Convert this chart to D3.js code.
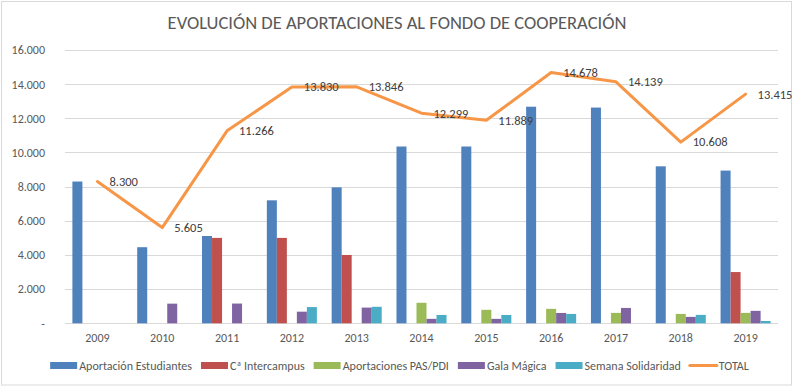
<!DOCTYPE html>
<html>
<head>
<meta charset="utf-8">
<script src="https://cdn.jsdelivr.net/npm/d3@7"></script>
<style>
	body { margin: 0; background: #fff; }
	svg text { font-family: Carlito, Lato, "Open Sans", sans-serif; }
</style>
</head>
<body>
<div id="visHolder"></div>
<script>
// data
const years = ["2009", "2010", "2011", "2012", "2013", "2014", "2015", "2016", "2017", "2018", "2019"];
const seriesNames = ["Aportación Estudiantes", "Cª Intercampus", "Aportaciones PAS/PDI", "Gala Mágica", "Semana Solidaridad"];
const estudiantes = [8300, 4455, 5110, 7200, 7960, 10350, 10350, 12680, 12630, 9190, 8940];
const intercampus = [0, 0, 5000, 5000, 4000, 0, 0, 0, 0, 0, 3000];
const pasPdi = [0, 0, 0, 0, 0, 1200, 790, 845, 610, 550, 610];
const galaMagica = [0, 1150, 1156, 680, 920, 260, 260, 605, 899, 375, 730];
const semanaSolidaridad = [0, 0, 0, 950, 966, 489, 489, 548, 0, 493, 135];
const totals = [8300, 5605, 11266, 13830, 13846, 12299, 11889, 14678, 14139, 10608, 13415];
const yTicks = [0, 2000, 4000, 6000, 8000, 10000, 12000, 14000, 16000];
const title = "EVOLUCIÓN DE APORTACIONES AL FONDO DE COOPERACIÓN";
const totalName = "TOTAL";

const seriesValues = [estudiantes, intercampus, pasPdi, galaMagica, semanaSolidaridad];
const colors = ["#4F81BD", "#C0504D", "#9BBB59", "#8064A2", "#4BACC6"];
const lineColor = "#F79646";

const width = 795, height = 387;
const plot = { left: 65, right: 778, top: 50, bottom: 323.3 };

const locale = d3.formatLocale({ decimal: ",", thousands: ".", grouping: [3], currency: ["", ""] });
const fmt = locale.format(",.0f");

const svg = d3.select("#visHolder").append("svg")
	.attr("width", width)
	.attr("height", height);

// chart border
svg.append("rect")
	.attr("x", 1.5).attr("y", 1.5)
	.attr("width", 790).attr("height", 383.5)
	.attr("fill", "#fff")
	.attr("stroke", "#d9d9d9");

svg.append("text")
	.attr("x", 397).attr("y", 29)
	.attr("text-anchor", "middle")
	.attr("fill", "#595959")
	.attr("font-size", 18.5)
	.text(title);

const x0 = d3.scaleBand().domain(years).range([plot.left, plot.right])
	.paddingInner(0.228).paddingOuter(0.114);
const x1 = d3.scaleBand().domain(d3.range(seriesNames.length)).range([0, x0.bandwidth()]);
const y = d3.scaleLinear().domain([0, 16000]).range([plot.bottom, plot.top]);

// gridlines
svg.append("g")
	.selectAll("line")
	.data(yTicks)
	.join("line")
	.attr("x1", plot.left).attr("x2", plot.right)
	.attr("y1", d => Math.round(y(d)) + 0.5).attr("y2", d => Math.round(y(d)) + 0.5)
	.attr("stroke", "#d9d9d9");

// y axis labels
const yAxis = svg.append("g")
	.attr("transform", `translate(${plot.left},0)`)
	.call(d3.axisLeft(y).tickValues(yTicks).tickSize(0).tickPadding(20)
		.tickFormat(d => d === 0 ? "-" : fmt(d)));
yAxis.select(".domain").remove();
yAxis.selectAll("text").attr("fill", "#595959").attr("font-size", 12)
	.style("font-family", "Carlito, Lato, 'Open Sans', sans-serif");

// x axis labels
const xAxis = svg.append("g")
	.attr("transform", `translate(0,${plot.bottom})`)
	.call(d3.axisBottom(x0).tickSize(0).tickPadding(10));
xAxis.select(".domain").remove();
xAxis.selectAll("text").attr("fill", "#595959").attr("font-size", 12)
	.style("font-family", "Carlito, Lato, 'Open Sans', sans-serif");

// bars
const groups = svg.append("g")
	.selectAll("g")
	.data(years)
	.join("g")
	.attr("transform", d => `translate(${x0(d)},0)`);

groups.selectAll("rect")
	.data((d, i) => seriesValues.map((vals, s) => ({ s, v: vals[i] })))
	.join("rect")
	.filter(d => d.v > 0)
	.attr("x", d => x1(d.s))
	.attr("width", x1.bandwidth())
	.attr("y", d => y(d.v))
	.attr("height", d => y(0) - y(d.v))
	.attr("fill", d => colors[d.s]);

// total line
const cx = d => x0(d) + x0.bandwidth() / 2;
const line = d3.line().x((d, i) => cx(years[i])).y(d => y(d));
svg.append("path")
	.datum(totals)
	.attr("d", line)
	.attr("fill", "none")
	.attr("stroke", lineColor)
	.attr("stroke-width", 3)
	.attr("stroke-linejoin", "round")
	.attr("stroke-linecap", "round");

svg.append("g")
	.selectAll("text")
	.data(totals)
	.join("text")
	.attr("x", (d, i) => cx(years[i]) + 12)
	.attr("y", d => y(d))
	.attr("dy", "0.35em")
	.attr("fill", "#404040")
	.attr("font-size", 12.5)
	.text(d => fmt(d));

// legend
const legendItems = [...seriesNames.map((n, i) => ({ name: n, color: colors[i], type: "rect" })),
	{ name: totalName, color: lineColor, type: "line" }];
const legend = svg.append("g");
let lx = 0;
legendItems.forEach(item => {
	const g = legend.append("g").attr("transform", `translate(${lx},0)`);
	if (item.type === "rect") {
		g.append("rect").attr("x", 0).attr("y", -3.5).attr("width", 27).attr("height", 7).attr("fill", item.color);
	} else {
		g.append("line").attr("x1", 0).attr("x2", 27).attr("y1", 0).attr("y2", 0)
			.attr("stroke", item.color).attr("stroke-width", 3).attr("stroke-linecap", "round");
	}
	const t = g.append("text").attr("x", 29).attr("y", 0).attr("dy", "0.35em")
		.attr("fill", "#595959").attr("font-size", 12).text(item.name);
	lx += 29 + t.node().getComputedTextLength() + 9;
});
lx -= 9;
legend.attr("transform", `translate(${(width - lx) / 2 + 2},365.5)`);
</script>
</body>
</html>
